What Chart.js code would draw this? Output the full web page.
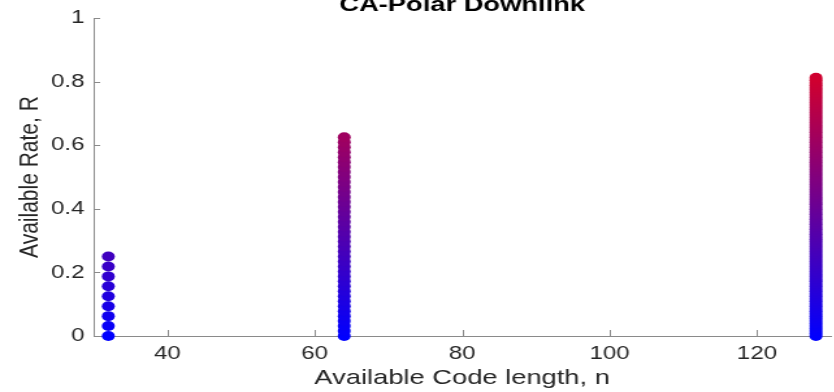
<!DOCTYPE html>
<html>
<head>
<meta charset="utf-8">
<script src="https://cdn.jsdelivr.net/npm/chart.js@4/dist/chart.umd.min.js"></script>
<style>
  html, body { margin: 0; padding: 0; background: #fff; overflow: hidden; width: 834px; height: 392px; }
  #wrap { width: 644px; height: 392px; transform: scaleX(1.3); transform-origin: 0 0; }
</style>
</head>
<body>
<div id="wrap"><canvas id="c" width="644" height="392"></canvas></div>
<script>
// Code lengths and the rates available at each length
const codeLengths = [32, 64, 128];

const ratesN32 = [0, 0.03125, 0.0625, 0.09375, 0.125, 0.15625, 0.1875, 0.21875, 0.25];

const ratesN64 = [
  0, 0.015625, 0.03125, 0.046875, 0.0625, 0.078125, 0.09375, 0.109375,
  0.125, 0.140625, 0.15625, 0.171875, 0.1875, 0.203125, 0.21875, 0.234375,
  0.25, 0.265625, 0.28125, 0.296875, 0.3125, 0.328125, 0.34375, 0.359375,
  0.375, 0.390625, 0.40625, 0.421875, 0.4375, 0.453125, 0.46875, 0.484375,
  0.5, 0.515625, 0.53125, 0.546875, 0.5625, 0.578125, 0.59375, 0.609375,
  0.625
];

const ratesN128 = [
  0, 0.0078125, 0.015625, 0.0234375, 0.03125, 0.0390625, 0.046875, 0.0546875,
  0.0625, 0.0703125, 0.078125, 0.0859375, 0.09375, 0.1015625, 0.109375, 0.1171875,
  0.125, 0.1328125, 0.140625, 0.1484375, 0.15625, 0.1640625, 0.171875, 0.1796875,
  0.1875, 0.1953125, 0.203125, 0.2109375, 0.21875, 0.2265625, 0.234375, 0.2421875,
  0.25, 0.2578125, 0.265625, 0.2734375, 0.28125, 0.2890625, 0.296875, 0.3046875,
  0.3125, 0.3203125, 0.328125, 0.3359375, 0.34375, 0.3515625, 0.359375, 0.3671875,
  0.375, 0.3828125, 0.390625, 0.3984375, 0.40625, 0.4140625, 0.421875, 0.4296875,
  0.4375, 0.4453125, 0.453125, 0.4609375, 0.46875, 0.4765625, 0.484375, 0.4921875,
  0.5, 0.5078125, 0.515625, 0.5234375, 0.53125, 0.5390625, 0.546875, 0.5546875,
  0.5625, 0.5703125, 0.578125, 0.5859375, 0.59375, 0.6015625, 0.609375, 0.6171875,
  0.625, 0.6328125, 0.640625, 0.6484375, 0.65625, 0.6640625, 0.671875, 0.6796875,
  0.6875, 0.6953125, 0.703125, 0.7109375, 0.71875, 0.7265625, 0.734375, 0.7421875,
  0.75, 0.7578125, 0.765625, 0.7734375, 0.78125, 0.7890625, 0.796875, 0.8046875,
  0.8125
];

const xTicks = [40, 60, 80, 100, 120];
const yTicks = [0, 0.2, 0.4, 0.6, 0.8, 1];
const yTickLabels = ['0', '0.2', '0.4', '0.6', '0.8', '1'];

const FONT = '"Liberation Sans", Arial, Helvetica, sans-serif';
const AXIS_GRAY = '#8a8a8a';
const TEXT_DARK = '#262626';

// blue at rate 0 fading to red as the rate grows
function rateColor(r) {
  return 'rgb(' + Math.round(255 * r) + ',0,' + Math.round(255 * (1 - r)) + ')';
}

function makeSet(n, rates) {
  return {
    label: 'n = ' + n,
    data: rates.map(r => ({ x: n, y: r })),
    backgroundColor: c => rateColor(c.raw ? c.raw.y : 0),
    borderColor: c => rateColor(c.raw ? c.raw.y : 0),
    borderWidth: 0,
    pointRadius: 5,
    pointHoverRadius: 5,
    clip: false
  };
}

// inward tick marks and the clipped title above the axes
const axesDecor = {
  id: 'axesDecor',
  afterDraw(chart) {
    const { ctx, chartArea, scales } = chart;
    ctx.save();
    ctx.strokeStyle = AXIS_GRAY;
    ctx.lineWidth = 1;
    ctx.beginPath();
    xTicks.forEach(v => {
      const px = Math.round(scales.x.getPixelForValue(v)) + 0.5;
      ctx.moveTo(px, chartArea.bottom);
      ctx.lineTo(px, chartArea.bottom - 6);
    });
    yTicks.forEach(v => {
      const py = Math.round(scales.y.getPixelForValue(v)) + 0.5;
      ctx.moveTo(chartArea.left, py);
      ctx.lineTo(chartArea.left + 5, py);
    });
    ctx.stroke();

    ctx.fillStyle = '#000';
    ctx.font = 'bold 21px ' + FONT;
    ctx.textAlign = 'center';
    ctx.textBaseline = 'alphabetic';
    ctx.fillText('CA-Polar Downlink', (chartArea.left + chartArea.right) / 2, 10.5);
    ctx.restore();
  }
};

new Chart(document.getElementById('c'), {
  type: 'scatter',
  data: {
    datasets: [
      makeSet(codeLengths[0], ratesN32),
      makeSet(codeLengths[1], ratesN64),
      makeSet(codeLengths[2], ratesN128)
    ]
  },
  options: {
    responsive: false,
    devicePixelRatio: 1,
    animation: false,
    layout: { padding: { top: 16, right: 0, bottom: 0, left: 0 } },
    plugins: {
      legend: { display: false },
      title: { display: false },
      tooltip: { enabled: false }
    },
    scales: {
      x: {
        type: 'linear',
        min: 30,
        max: 130,
        afterBuildTicks: s => { s.ticks = xTicks.map(v => ({ value: v })); },
        afterFit: s => { s.height = 56; },
        grid: { display: false, drawTicks: false },
        border: { display: true, color: AXIS_GRAY, width: 1 },
        ticks: {
          padding: 7,
          color: TEXT_DARK,
          font: { family: FONT, size: 18.5 },
          maxRotation: 0,
          autoSkip: false
        },
        title: {
          display: true,
          text: 'Available Code length, n',
          color: TEXT_DARK,
          font: { family: FONT, size: 21 },
          padding: { top: 0, bottom: 1 }
        }
      },
      y: {
        type: 'linear',
        min: 0,
        max: 1,
        afterBuildTicks: s => { s.ticks = yTicks.map(v => ({ value: v })); },
        afterFit: s => { s.width = 72; },
        grid: { display: false, drawTicks: false },
        border: { display: true, color: AXIS_GRAY, width: 1 },
        ticks: {
          padding: 7,
          color: TEXT_DARK,
          font: { family: FONT, size: 18.5 },
          autoSkip: false,
          callback: (v, i) => yTickLabels[i]
        },
        title: {
          display: true,
          text: 'Available Rate, R',
          color: TEXT_DARK,
          font: { family: FONT, size: 21 },
          padding: { top: 11, bottom: 0 }
        }
      }
    }
  },
  plugins: [axesDecor]
});
</script>
</body>
</html>
